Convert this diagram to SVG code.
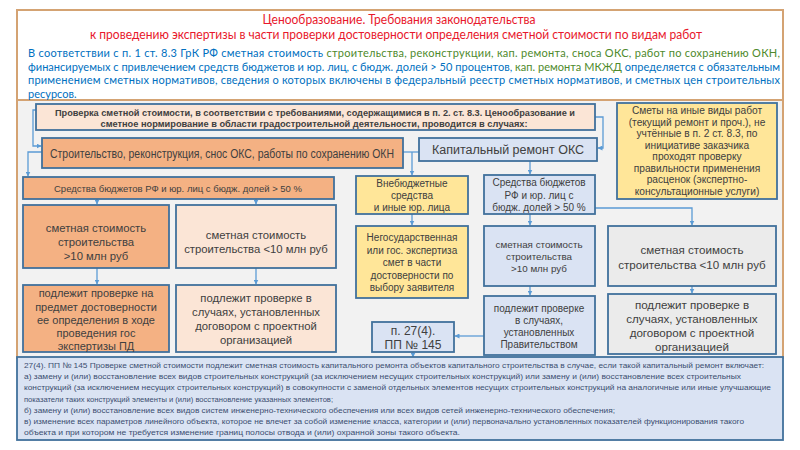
<svg xmlns="http://www.w3.org/2000/svg" width="800" height="450" viewBox="0 0 800 450">
<defs>
<marker id="ah" viewBox="0 0 10 10" refX="9" refY="5" markerWidth="5" markerHeight="5" orient="auto-start-reverse" markerUnits="userSpaceOnUse">
<path d="M0,0 L10,5 L0,10 z" fill="#5B9BD5"/>
</marker>
<style>
.box{stroke:#41719C;stroke-width:1.8}
.or{fill:#F4B183}.pe{fill:#FBE5D6}.ye{fill:#FFE699}.bl{fill:#DAE3F3}.gr{fill:#EBEBEB}
.t{font-family:"Liberation Sans",Arial,sans-serif;fill:#404040;text-anchor:middle}
.cn{fill:none;stroke:#5B9BD5;stroke-width:1.3}
.ca{font-family:Lato,"Open Sans",sans-serif}
</style>
</defs>
<rect x="0" y="0" width="800" height="450" fill="#FFFFFF"/>
<rect x="17" y="100" width="766" height="258" fill="#F2F2F2"/>
<rect x="17" y="10" width="766" height="348" fill="none" stroke="#D4A373" stroke-width="2"/>
<line x1="17" y1="100" x2="783" y2="100" stroke="#D4A373" stroke-width="2"/>

<g id="title">
<text class="ca" x="399" y="24" font-size="12.5" fill="#E8182C" text-anchor="middle" textLength="273" lengthAdjust="spacingAndGlyphs">Ценообразование. Требования законодательства</text>
<text class="ca" x="396" y="39" font-size="12.5" fill="#E8182C" text-anchor="middle" textLength="612" lengthAdjust="spacingAndGlyphs">к проведению экспертизы в части проверки достоверности определения сметной стоимости по видам работ</text>
</g>
<g id="intro" class="ca" font-size="11" fill="#0070C0">
<text x="28" y="57" textLength="752" lengthAdjust="spacing">В соответствии с п. 1 ст. 8.3  ГрК   РФ сметная стоимость <tspan fill="#4E8A2C">строительства, реконструкции, кап. ремонта, сноса ОКС, работ по сохранению ОКН,</tspan></text>
<text x="28" y="70.5" textLength="752" lengthAdjust="spacing">финансируемых с привлечением средств бюджетов и юр. лиц, с бюдж. долей &gt; 50 процентов, <tspan fill="#4E8A2C">кап. ремонта МКЖД</tspan> определяется с обязательным</text>
<text x="28" y="84" textLength="752" lengthAdjust="spacing">применением сметных нормативов, сведения о которых включены в федеральный реестр сметных нормативов, и сметных цен строительных</text>
<text x="28" y="97.5">ресурсов.</text>
</g>

<g id="connectors">
<path class="cn" d="M36,110 H33 V146 H41" marker-end="url(#ah)"/>
<path class="cn" d="M42,152 H28 V176" marker-end="url(#ah)"/>
<path class="cn" d="M595,117 H603 V148 H598" marker-end="url(#ah)"/>
<path class="cn" d="M403,152 H419"/>
<path class="cn" d="M412,152 V175" marker-end="url(#ah)"/>
<path class="cn" d="M530,161 V174" marker-end="url(#ah)"/>
<path class="cn" d="M97,199 V204" marker-end="url(#ah)"/>
<path class="cn" d="M256,199 V204" marker-end="url(#ah)"/>
<path class="cn" d="M97,268 V284" marker-end="url(#ah)"/>
<path class="cn" d="M256,268 V284" marker-end="url(#ah)"/>
<path class="cn" d="M412,214 V225" marker-end="url(#ah)"/>
<path class="cn" d="M530,214 V225" marker-end="url(#ah)"/>
<path class="cn" d="M595,208 H692 V225" marker-end="url(#ah)"/>
<path class="cn" d="M530,286 V295" marker-end="url(#ah)"/>
<path class="cn" d="M692,286 V293" marker-end="url(#ah)"/>
<path class="cn" d="M484,336 H455" marker-end="url(#ah)"/>
<path class="cn" d="M413,352 V357" marker-end="url(#ah)"/>
</g>

<g id="n_check">
<rect class="box pe" x="36" y="104" width="559" height="26"/>
<text class="t" x="315" y="116" font-size="9" font-weight="bold" fill="#262626" textLength="520" lengthAdjust="spacingAndGlyphs">Проверка сметной стоимости, в соответствии с требованиями, содержащимися в п. 2. ст. 8.3. Ценообразование и</text>
<text class="t" x="314" y="127" font-size="9" font-weight="bold" fill="#262626" textLength="427" lengthAdjust="spacingAndGlyphs">сметное нормирование в области градостроительной деятельности, проводится в случаях:</text>
</g>
<g id="n_other">
<rect class="box ye" x="617" y="103" width="160" height="96"/>
<text class="t" font-size="10.2"><tspan x="697" y="114">Сметы на иные виды работ</tspan><tspan x="697" y="125.5">(текущий ремонт и проч.), не</tspan><tspan x="697" y="137">учтённые в п. 2 ст. 8.3, по</tspan><tspan x="697" y="148.5">инициативе заказчика</tspan><tspan x="697" y="160">проходят проверку</tspan><tspan x="697" y="171.5">правильности применения</tspan><tspan x="697" y="183">расценок (экспертно-</tspan><tspan x="697" y="194.5">консультационные услуги)</tspan></text>
</g>
<g id="n_build">
<rect class="box or" x="42" y="138" width="361" height="30"/>
<text class="t" x="222" y="157.5" font-size="12" textLength="344" lengthAdjust="spacingAndGlyphs">Строительство, реконструкция, снос ОКС, работы по сохранению ОКН</text>
</g>
<g id="n_cap">
<rect class="box bl" x="419" y="138" width="178" height="23"/>
<text class="t" x="508" y="154" font-size="12.5">Капитальный ремонт ОКС</text>
</g>
<g id="n_budget1">
<rect class="box or" x="23" y="177" width="311" height="22"/>
<text class="t" x="178" y="191.5" font-size="9.5">Средства бюджетов РФ и юр. лиц с бюдж. долей &gt; 50 %</text>
</g>
<g id="n_extra">
<rect class="box ye" x="356" y="176" width="112" height="38"/>
<text class="t" font-size="10"><tspan x="412" y="187">Внебюджетные</tspan><tspan x="412" y="199">средства</tspan><tspan x="412" y="211">и иные юр. лица</tspan></text>
</g>
<g id="n_budget2">
<rect class="box bl" x="484" y="175" width="111" height="39"/>
<text class="t" font-size="10"><tspan x="539" y="186">Средства бюджетов</tspan><tspan x="539" y="198.5">РФ и юр. лиц с</tspan><tspan x="539" y="211">бюдж. долей &gt; 50 %</tspan></text>
</g>
<g id="n_cost1">
<rect class="box or" x="23" y="205" width="146" height="63"/>
<text class="t" font-size="11.3"><tspan x="96" y="232">сметная стоимость</tspan><tspan x="96" y="246">строительства</tspan><tspan x="96" y="260">&gt;10 млн руб</tspan></text>
</g>
<g id="n_cost2">
<rect class="box pe" x="176" y="205" width="160" height="63"/>
<text class="t" font-size="11.3"><tspan x="256" y="239">сметная стоимость</tspan><tspan x="256" y="253">строительства &lt;10 млн руб</tspan></text>
</g>
<g id="n_nongov">
<rect class="box ye" x="356" y="226" width="112" height="72"/>
<text class="t" font-size="10"><tspan x="412" y="241">Негосударственная</tspan><tspan x="412" y="253.5">или гос. экспертиза</tspan><tspan x="412" y="266">смет в части</tspan><tspan x="412" y="278.5">достоверности по</tspan><tspan x="412" y="291">выбору заявителя</tspan></text>
</g>
<g id="n_cost3">
<rect class="box bl" x="484" y="226" width="111" height="60"/>
<text class="t" font-size="9.8"><tspan x="539" y="248">сметная стоимость</tspan><tspan x="539" y="260">строительства</tspan><tspan x="539" y="272">&gt;10 млн руб</tspan></text>
</g>
<g id="n_cost4">
<rect class="box gr" x="608" y="226" width="168" height="60"/>
<text class="t" font-size="11.6"><tspan x="692" y="254">сметная стоимость</tspan><tspan x="692" y="268.5">строительства &lt;10 млн руб</tspan></text>
</g>
<g id="n_check1">
<rect class="box or" x="23" y="285" width="146" height="67"/>
<text class="t" font-size="11"><tspan x="96" y="297">подлежит проверке на</tspan><tspan x="96" y="310.5">предмет достоверности</tspan><tspan x="96" y="324">ее определения в ходе</tspan><tspan x="96" y="337">проведения гос</tspan><tspan x="96" y="349.5">экспертизы ПД</tspan></text>
</g>
<g id="n_check2">
<rect class="box pe" x="176" y="285" width="160" height="67"/>
<text class="t" font-size="11.3"><tspan x="256" y="302">подлежит проверке в</tspan><tspan x="256" y="316">случаях, установленных</tspan><tspan x="256" y="330">договором с проектной</tspan><tspan x="256" y="344">организацией</tspan></text>
</g>
<g id="n_check3">
<rect class="box bl" x="484" y="296" width="111" height="59"/>
<text class="t" font-size="10"><tspan x="539" y="312">подлежит проверке</tspan><tspan x="539" y="324">в случаях,</tspan><tspan x="539" y="336">установленных</tspan><tspan x="539" y="348">Правительством</tspan></text>
</g>
<g id="n_check4">
<rect class="box gr" x="608" y="294" width="168" height="60"/>
<text class="t" font-size="11.6"><tspan x="692" y="308.5">подлежит проверке в</tspan><tspan x="692" y="322.5">случаях, установленных</tspan><tspan x="692" y="336.5">договором с проектной</tspan><tspan x="692" y="350.5">организацией</tspan></text>
</g>
<g id="n_pp145">
<rect class="box bl" x="372" y="322" width="82" height="30"/>
<text class="t" font-size="12"><tspan x="413" y="335">п. 27(4).</tspan><tspan x="413" y="349">ПП № 145</tspan></text>
</g>
<g id="n_note">
<rect class="box bl" x="17" y="357" width="766" height="83"/>
<g font-family="Liberation Sans, Arial, sans-serif" font-size="8" fill="#3A4E70">
<text x="24" y="368" textLength="740" lengthAdjust="spacingAndGlyphs">27(4). ПП № 145 Проверке сметной стоимости подлежит сметная стоимость капитального ремонта объектов капитального строительства в случае, если такой капитальный ремонт включает:</text>
<text x="24" y="379.2" textLength="717" lengthAdjust="spacingAndGlyphs">а) замену и (или) восстановление всех видов строительных конструкций (за исключением несущих строительных конструкций) или замену и (или) восстановление всех строительных</text>
<text x="24" y="390.4" textLength="747" lengthAdjust="spacingAndGlyphs">конструкций (за исключением несущих строительных конструкций) в совокупности с заменой отдельных элементов несущих строительных конструкций на аналогичные или иные улучшающие</text>
<text x="24" y="401.6" textLength="309" lengthAdjust="spacingAndGlyphs">показатели таких конструкций элементы и (или) восстановление указанных элементов;</text>
<text x="24" y="412.8" textLength="591" lengthAdjust="spacingAndGlyphs">б) замену и (или) восстановление всех видов систем инженерно-технического обеспечения или всех видов сетей инженерно-технического обеспечения;</text>
<text x="24" y="424" textLength="720" lengthAdjust="spacingAndGlyphs">в) изменение всех параметров линейного объекта, которое не влечет за собой изменение класса, категории и (или) первоначально установленных показателей функционирования такого</text>
<text x="24" y="435.2" textLength="436" lengthAdjust="spacingAndGlyphs">объекта и при котором не требуется изменение границ полосы отвода и (или) охранной зоны такого объекта.</text>
</g>
</g>
</svg>
